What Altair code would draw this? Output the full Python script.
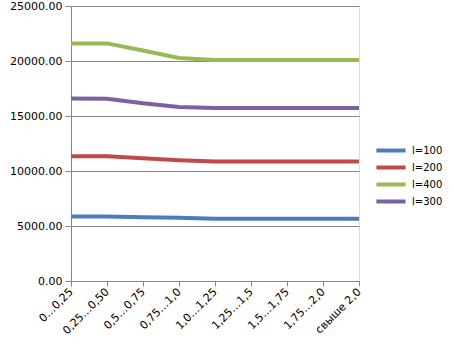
import altair as alt
import pandas as pd

categories = ["0…0,25", "0,25…0,50", "0,5…0,75", "0,75…1,0", "1,0…1,25",
              "1,25…1,5", "1,5…1,75", "1,75…2,0", "свыше 2,0"]
series_names = ["l=100", "l=200", "l=400", "l=300"]
l100 = [5870, 5860, 5790, 5750, 5670, 5670, 5670, 5670, 5670]
l200 = [11340, 11330, 11150, 10980, 10860, 10860, 10860, 10860, 10860]
l400 = [21600, 21600, 20950, 20280, 20080, 20080, 20080, 20080, 20080]
l300 = [16580, 16570, 16150, 15810, 15720, 15720, 15720, 15720, 15720]
colors = ["#4A7EBB", "#BE4B48", "#98B954", "#7D60A0"]
y_ticks = [0, 5000, 10000, 15000, 20000, 25000]

rows = []
for name, vals in zip(series_names, [l100, l200, l400, l300]):
    for c, v in zip(categories, vals):
        rows.append({"cat": c, "value": v, "series": name})
df = pd.DataFrame(rows)

FONT = "DejaVu Sans"

chart = alt.Chart(df).mark_line(strokeWidth=4).encode(
    x=alt.X("cat:N", sort=categories, title=None,
            scale=alt.Scale(type="point", padding=0),
            axis=alt.Axis(labelAngle=-45, labelAlign="right", labelBaseline="middle",
                          tickSize=5, labelPadding=4, grid=False,
                          domainColor="#868686", tickColor="#868686",
                          labelColor="#000000", labelFontSize=11, labelFont=FONT)),
    y=alt.Y("value:Q", title=None,
            scale=alt.Scale(domain=[0, 25000], nice=False),
            axis=alt.Axis(values=y_ticks, format=".2f", tickSize=6, labelPadding=3,
                          grid=True, gridColor="#868686", domainColor="#868686",
                          tickColor="#868686", labelColor="#000000",
                          labelFontSize=11, labelFont=FONT)),
    color=alt.Color("series:N", sort=series_names,
                    scale=alt.Scale(domain=series_names, range=colors),
                    legend=alt.Legend(title=None, orient="none", legendX=303, legendY=138,
                                      symbolType="stroke", symbolStrokeWidth=4,
                                      symbolSize=850, labelFontSize=10, labelFont=FONT,
                                      labelColor="#000000", rowPadding=4, padding=0,
                                      clipHeight=13)),
    detail="series:N",
).properties(
    width=288, height=275,
    autosize=alt.AutoSizeParams(type="none"),
    padding={"left": 71, "top": 6, "right": 94, "bottom": 72},
).configure_view(stroke=None).configure(background="white")

chart.save("out.html", embed_options={"renderer": "svg", "actions": False})
